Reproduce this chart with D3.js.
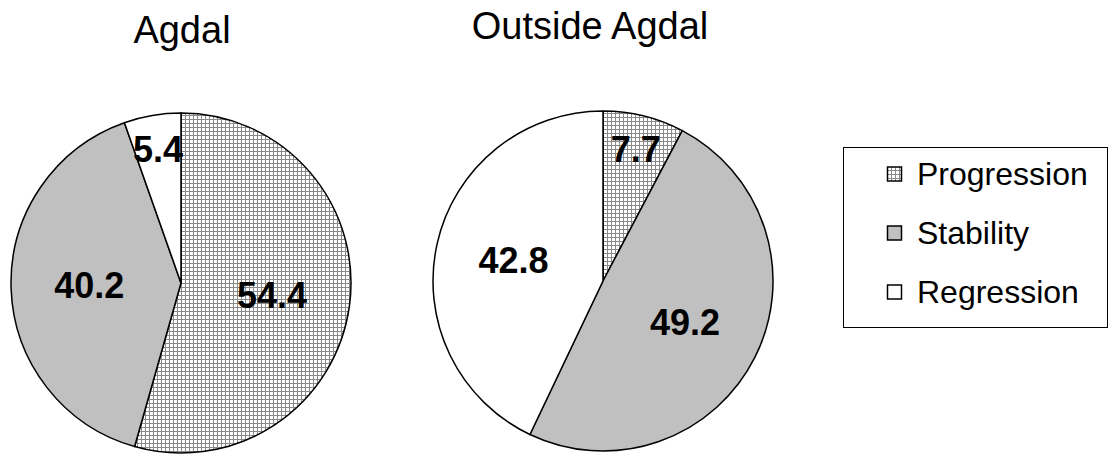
<!DOCTYPE html>
<html>
<head>
<meta charset="utf-8">
<script src="https://cdn.jsdelivr.net/npm/d3@7"></script>
<style>
  body { margin: 0; background: #fff; }
  svg { display: block; }
</style>
</head>
<body>
<div id="chart"></div>
<script>
// data
var categories = ["Progression", "Stability", "Regression"];
var pieTitles = ["Agdal", "Outside Agdal"];
var agdalValues = [54.4, 40.2, 5.4];
var outsideValues = [7.7, 49.2, 42.8];

var width = 1112, height = 461;
var radius = 170;

var svg = d3.select("#chart").append("svg")
  .attr("width", width)
  .attr("height", height);

// grid pattern for Progression
var defs = svg.append("defs");
var pat = defs.append("pattern")
  .attr("id", "grid")
  .attr("patternUnits", "userSpaceOnUse")
  .attr("width", 4)
  .attr("height", 4);
pat.append("rect").attr("width", 4).attr("height", 4).attr("fill", "#fff");
pat.append("path")
  .attr("d", "M0.5 0 V4 M0 0.5 H4")
  .attr("stroke", "#8a8a8a")
  .attr("stroke-width", 1);

var fill = d3.scaleOrdinal()
  .domain(categories)
  .range(["url(#grid)", "#c0c0c0", "#ffffff"]);

var pie = d3.pie().sort(null).value(function(d) { return d.value; });
var arc = d3.arc().innerRadius(0).outerRadius(radius);

function drawPie(values, cx, cy, title, titleX, titleY) {
  var data = categories.map(function(c, i) { return {cat: c, value: values[i]}; });
  var g = svg.append("g").attr("transform", "translate(" + cx + "," + cy + ")");
  var arcs = pie(data);
  g.selectAll("path")
    .data(arcs)
    .enter().append("path")
    .attr("d", arc)
    .attr("fill", function(d) { return fill(d.data.cat); })
    .attr("stroke", "#000")
    .attr("stroke-width", 1.5)
    .attr("stroke-linejoin", "round");
  g.selectAll("text.val")
    .data(arcs)
    .enter().append("text")
    .attr("class", "val")
    .attr("transform", function(d) {
      // small slices get their label pushed outward
      var lr = d.data.value < 10 ? radius * 0.8 : radius * 0.54;
      var c = d3.arc().innerRadius(lr).outerRadius(lr).centroid(d);
      return "translate(" + c[0] + "," + c[1] + ")";
    })
    .attr("text-anchor", "middle")
    .attr("dy", "0.35em")
    .attr("font-family", "Liberation Sans, Arial, sans-serif")
    .attr("font-weight", "bold")
    .attr("font-size", 36)
    .attr("fill", "#000")
    .text(function(d) { return d.data.value.toFixed(1); });

  svg.append("text")
    .attr("x", titleX)
    .attr("y", titleY)
    .attr("text-anchor", "middle")
    .attr("font-family", "Liberation Sans, Arial, sans-serif")
    .attr("font-size", 38)
    .attr("fill", "#000")
    .text(title);
}

drawPie(agdalValues, 181, 283, pieTitles[0], 182, 43);
drawPie(outsideValues, 603, 281, pieTitles[1], 590, 39);

// legend
var legend = svg.append("g");
legend.append("rect")
  .attr("x", 843.5)
  .attr("y", 147.5)
  .attr("width", 264)
  .attr("height", 180)
  .attr("fill", "#fff")
  .attr("stroke", "#000")
  .attr("stroke-width", 1);

var legendY = d3.scalePoint().domain(categories).range([174, 292]);
var items = legend.selectAll("g.item")
  .data(categories)
  .enter().append("g")
  .attr("class", "item")
  .attr("transform", function(d) { return "translate(887," + legendY(d) + ")"; });
items.append("rect")
  .attr("x", 0.5)
  .attr("y", -7)
  .attr("width", 14)
  .attr("height", 14)
  .attr("fill", function(d) { return fill(d); })
  .attr("stroke", "#000")
  .attr("stroke-width", 1.5);
items.append("text")
  .attr("x", 30)
  .attr("y", 11)
  .attr("font-family", "Liberation Sans, Arial, sans-serif")
  .attr("font-size", 32)
  .attr("fill", "#000")
  .text(function(d) { return d; });
</script>
</body>
</html>
